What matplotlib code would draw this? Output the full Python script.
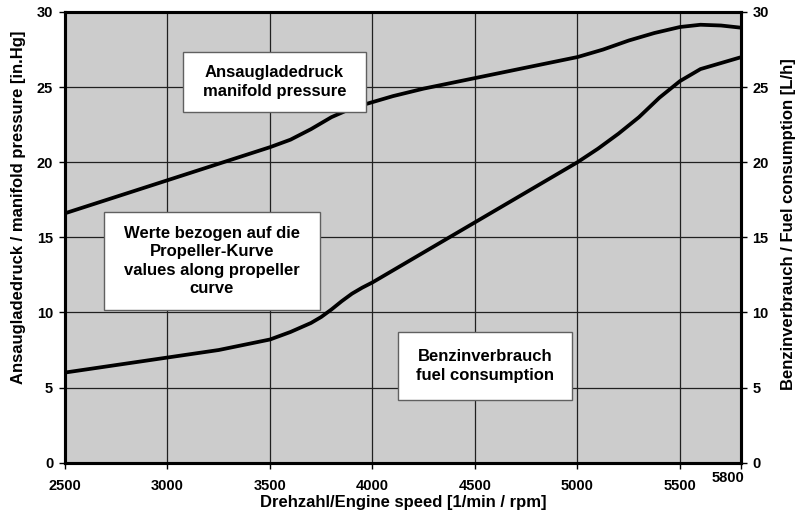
import matplotlib.pyplot as plt
from matplotlib.patches import Rectangle

plt.rcParams['font.family'] = ['Liberation Sans', 'DejaVu Sans']
plt.rcParams['font.weight'] = 'bold'

# manifold pressure [in.Hg]
rpm_mp = [2500, 2750, 3000, 3250, 3500, 3600, 3700, 3800, 3900, 4000, 4100, 4250, 4500, 4750, 5000,
          5125, 5250, 5375, 5500, 5600, 5700, 5800]
mp = [16.6, 17.7, 18.8, 19.9, 21.0, 21.5, 22.2, 23.0, 23.6, 24.0, 24.4, 24.9, 25.6, 26.3, 27.0,
      27.5, 28.1, 28.6, 29.0, 29.15, 29.1, 28.95]

# fuel consumption [L/h]
rpm_fc = [2500, 2750, 3000, 3250, 3500, 3600, 3700, 3750, 3800, 3850, 3900, 3950, 4000, 4250, 4500,
          4750, 5000, 5100, 5200, 5300, 5400, 5500, 5600, 5700, 5800]
fc = [6.0, 6.5, 7.0, 7.5, 8.2, 8.7, 9.3, 9.7, 10.2, 10.75, 11.25, 11.65, 12.0, 14.0, 16.0,
      18.0, 20.0, 20.9, 21.9, 23.0, 24.3, 25.4, 26.2, 26.6, 27.0]

xticks = [2500, 3000, 3500, 4000, 4500, 5000, 5500]
yticks = [0, 5, 10, 15, 20, 25, 30]

fig = plt.figure(figsize=(8.03, 5.12), dpi=100)
ax = fig.add_axes([0.0809, 0.0963, 0.8425, 0.8803])
ax.set_facecolor('#cccccc')

ax.plot(rpm_mp, mp, color='black', lw=2.7, solid_capstyle='butt', solid_joinstyle='round', zorder=3)
ax.plot(rpm_fc, fc, color='black', lw=2.7, solid_capstyle='butt', solid_joinstyle='round', zorder=3)

ax.set_xlim(2500, 5800)
ax.set_ylim(0, 30)
ax.set_xticks(xticks + [5800])
ax.set_xticklabels([str(t) for t in xticks] + [''])
ax.set_yticks(yticks)
ax.grid(True, color='#202020', lw=0.9)
ax.set_axisbelow(True)
for s in ax.spines.values():
    s.set_linewidth(2.2)
ax.tick_params(axis='x', labelsize=10.5, length=4, width=1, direction='out', pad=8)
ax.tick_params(axis='y', labelsize=10.5, length=4, width=1, direction='out', pad=4.5)

ax.annotate('5800', xy=(5800, 0), xycoords=('data', 'axes fraction'),
            xytext=(-10, -11), textcoords='offset points', ha='center', va='center',
            fontsize=10.5, fontweight='bold')

ax2 = ax.twinx()
ax2.set_ylim(0, 30)
ax2.set_yticks(yticks)
ax2.tick_params(labelsize=10.5, length=4, width=1, direction='out', pad=4)
for s in ax2.spines.values():
    s.set_linewidth(2.2)

ax.set_xlabel('Drehzahl/Engine speed [1/min / rpm]', fontsize=12, fontweight='bold', labelpad=1)
ax.set_ylabel('Ansaugladedruck / manifold pressure [in.Hg]', fontsize=12, fontweight='bold')
ax.yaxis.set_label_coords(-0.058, 0.567)
ax2.set_ylabel('Benzinverbrauch / Fuel consumption [L/h]', fontsize=12, fontweight='bold')
ax2.yaxis.set_label_coords(1.059, 0.529)

boxes = [
    ((0.2279, 0.7813, 0.2279, 0.1172), 'Ansaugladedruck\nmanifold pressure'),
    ((0.1295, 0.3945, 0.2690, 0.1914), 'Werte bezogen auf die\nPropeller-Kurve\nvalues along propeller\ncurve'),
    ((0.4956, 0.2188, 0.2167, 0.1328), 'Benzinverbrauch\nfuel consumption'),
]
for (x0, y0, w, h), txt in boxes:
    fig.patches.append(Rectangle((x0, y0), w, h, transform=fig.transFigure,
                                 facecolor='white', edgecolor='#606060', lw=1, zorder=5))
    fig.text(x0 + w / 2, y0 + h / 2, txt, ha='center', va='center', fontsize=12,
             fontweight='bold', linespacing=1.3, zorder=6)

fig.savefig('out.png', dpi=100)
